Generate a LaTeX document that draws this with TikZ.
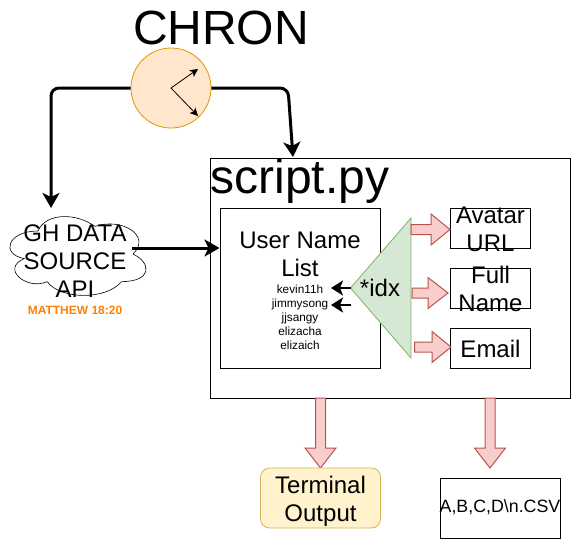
\documentclass[tikz,border=0pt]{standalone}
\usepackage{fontspec}
\setmainfont{Liberation Sans}
\usetikzlibrary{arrows.meta}
\definecolor{clockfill}{HTML}{FFE6CC}
\definecolor{clockline}{HTML}{D79B00}
\definecolor{idxfill}{HTML}{D5E8D4}
\definecolor{idxline}{HTML}{82B366}
\definecolor{blockfill}{HTML}{F8CECC}
\definecolor{blockline}{HTML}{B85450}
\definecolor{termfill}{HTML}{FFF2CC}
\definecolor{termline}{HTML}{D6B656}
\definecolor{verse}{HTML}{FF8000}
\newcommand{\fs}[2]{\fontsize{#1}{#2}\selectfont}
\newcommand{\rightblock}[4]{% x0, head x, tip x, centre y
  \draw[blockarrow] (#1,#4-5) -- (#2,#4-5) -- (#2,#4-15.5) -- (#3,#4) -- (#2,#4+15.5) -- (#2,#4+5) -- (#1,#4+5) -- cycle;}
\newcommand{\downblock}[1]{% centre x
  \draw[blockarrow] (#1-5,398) -- (#1+5,398) -- (#1+5,448) -- (#1+15.5,448) -- (#1,468) -- (#1-15.5,448) -- (#1-5,448) -- cycle;}
\tikzset{
  x=1pt,y=-1pt,
  boxed/.style={draw=black,fill=white,line width=1pt,rectangle,inner sep=0pt},
  label text/.style={inner sep=0pt,align=center,text=black},
  blockarrow/.style={draw=blockline,fill=blockfill,line width=1pt,line join=miter},
  thick link/.style={draw=black,line width=3pt,rounded corners=8pt,-{Stealth[length=15pt,width=17pt,inset=4pt]}},
  mid link/.style={draw=black,line width=2pt,-{Stealth[length=12pt,width=15pt,inset=3pt]}},
  hand/.style={draw=black,line width=.8pt,-{Stealth[length=8pt,width=8pt,inset=2pt]}},
}
\begin{document}
\begin{tikzpicture}
\useasboundingbox (0,0) rectangle (571,539);
\node[label text,font=\fs{48}{55}] (title) at (221,28) {CHRON};
\node[circle,draw=clockline,fill=clockfill,line width=.8pt,minimum size=80pt,inner sep=0pt] (clock) at (171,88) {};
\coordinate (hub) at (171,88);
\coordinate (handa) at (198,69);
\coordinate (handb) at (198,116);
\draw[hand] (hub) -- (handa);
\draw[hand] (hub) -- (handb);
% script box
\node[boxed,minimum width=360pt,minimum height=240pt] (script) at (390,278) {};
\node[label text,font=\fs{48}{55}] (scripttitle) at (300,181) {script.py};
\node[boxed,minimum width=160pt,minimum height=160pt] (list) at (300,288) {};
\node[label text,font=\fs{24}{28}] (listtitle) at (300,254) {User Name\\List};
\node[label text,font=\fs{11.8}{14}] (names) at (300,317) {kevin11h\\jimmysong\\jjsangy\\elizacha\\elizaich};
% triangle
\draw[draw=idxline,fill=idxfill,line width=.8pt] (411,218) -- (411,358) -- (350.5,288) -- cycle;
\node[label text,font=\fs{24}{28}] (idx) at (380,288) {*idx};
\coordinate (idxa) at (351,288);
\coordinate (idxb) at (351,305);
\coordinate (namea) at (331,288);
\coordinate (nameb) at (331,305);
\draw[mid link] (idxa) -- (namea);
\draw[mid link] (idxb) -- (nameb);
% output fields
\node[boxed,minimum width=80pt,minimum height=40pt] (avatar) at (490.5,228.5) {};
\node[label text,font=\fs{24}{28}] at (490.5,229.5) {Avatar\\URL};
\node[boxed,minimum width=80pt,minimum height=40pt] (fullname) at (490.5,288.5) {};
\node[label text,font=\fs{24}{28}] at (490.5,288.5) {Full\\Name};
\node[boxed,minimum width=80pt,minimum height=40pt] (email) at (490.5,348.5) {};
\node[label text,font=\fs{24}{28}] at (490.5,348.5) {Email};
\rightblock{411}{431}{450}{229.5}
\rightblock{412}{428}{448}{293}
\rightblock{414.5}{432}{451}{347}
% outputs
\downblock{320.5}
\downblock{490}
\node[draw=termline,fill=termfill,line width=.8pt,rounded corners=9pt,minimum width=120pt,minimum height=60pt,inner sep=0pt] (terminal) at (320.5,498) {};
\node[label text,font=\fs{24}{28}] at (320.5,501) {Terminal\\Output};
\node[boxed,minimum width=120pt,minimum height=60pt] (csv) at (500,508) {};
\node[label text,font=\fs{17.8}{21}] at (500,507) {A,B,C,D\textbackslash n.CSV};
% cloud
\draw[draw=black,fill=white,line width=.6pt]
  (38,231) .. controls (7.6,231) and (0,254) .. (24.3,258.6)
  .. controls (0,268.7) and (27.4,290.8) .. (47.1,281.6)
  .. controls (60.8,300) and (106.4,300) .. (121.6,281.6)
  .. controls (152,281.6) and (152,263.2) .. (133,254)
  .. controls (152,235.6) and (121.6,217.2) .. (95,226.4)
  .. controls (76,212.6) and (45.6,212.6) .. (38,231) -- cycle;
\coordinate (cloudout) at (132,248);
\node[label text,font=\fs{24}{28}] (cloud) at (75,261) {GH DATA\\SOURCE\\API};
\node[label text,font=\bfseries\fs{12}{14},text=verse] (verseref) at (75,310) {MATTHEW 18:20};
% connectors
\draw[thick link] (clock.west) -- (51,88) -- (51,208);
\draw[thick link] (clock.east) -- (288,88) -- (293,157);
\draw[thick link,rounded corners=0pt] (cloudout) -- (list.west |- cloudout);
\end{tikzpicture}
\end{document}
